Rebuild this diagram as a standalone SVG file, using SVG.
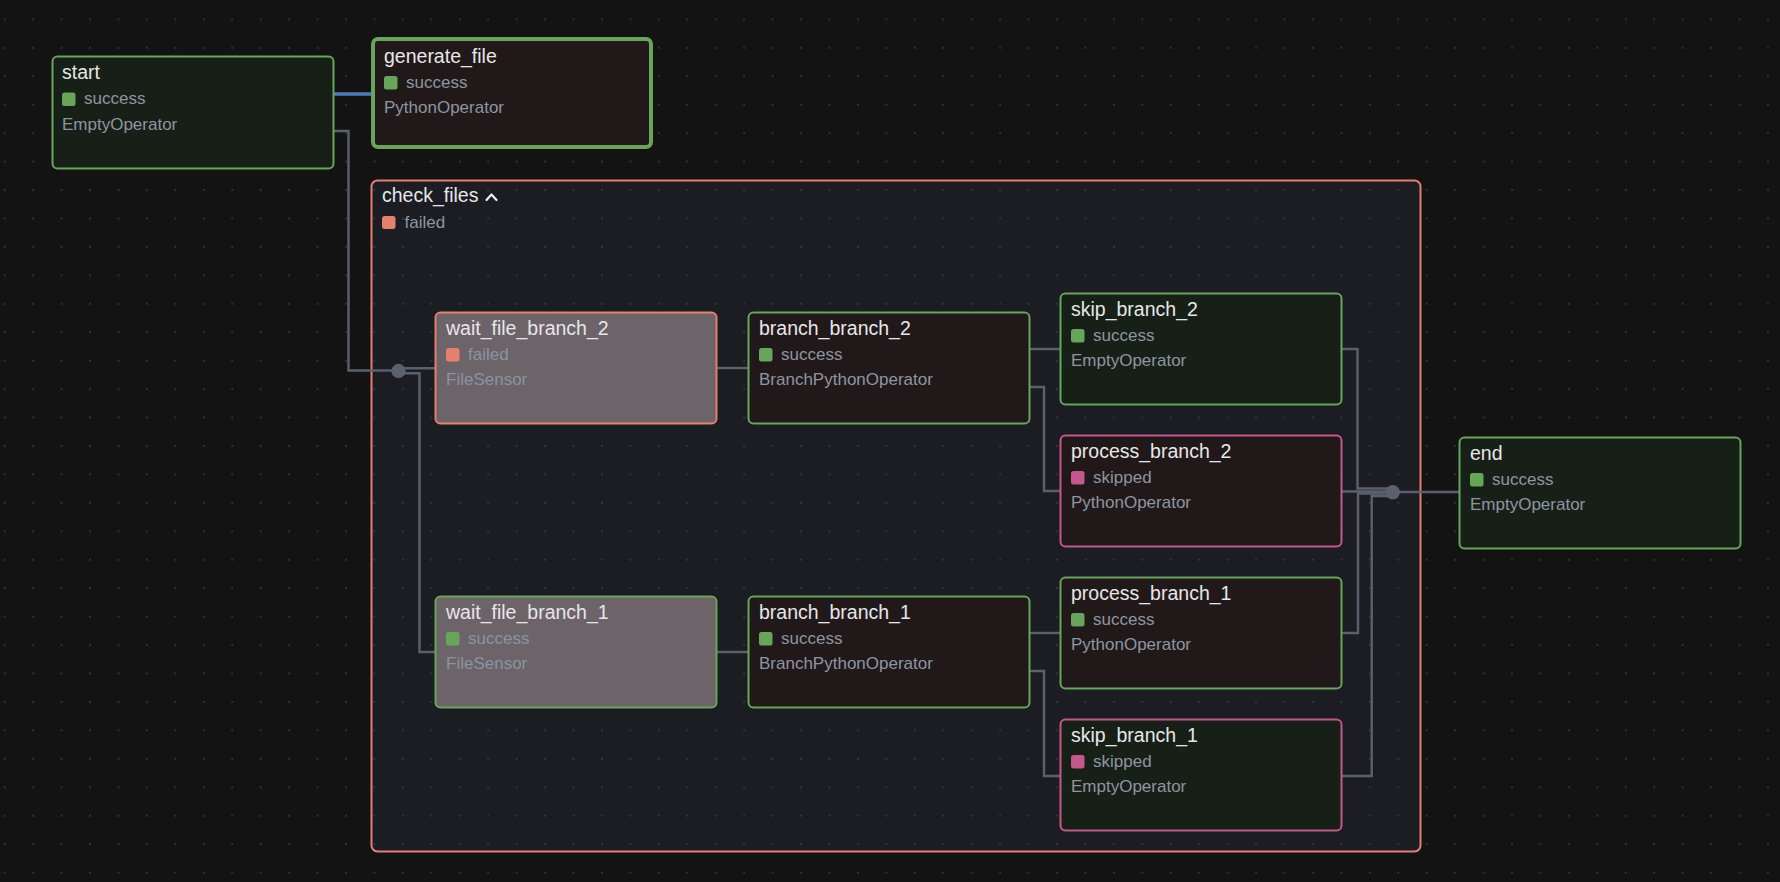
<svg xmlns="http://www.w3.org/2000/svg" width="1780" height="882" viewBox="0 0 1780 882">
  <defs>
    <pattern id="dots" patternUnits="userSpaceOnUse" x="3.7" y="18.4" width="28.44" height="28.44">
      <circle cx="1" cy="1" r="0.9" fill="#3d3f42"/>
    </pattern>
    <style>
      .title{font-family:"Liberation Sans",Arial,sans-serif;font-size:19.5px;fill:#e6e7e9}
      .sub{font-family:"Liberation Sans",Arial,sans-serif;font-size:17px;fill:#8d95a1}
      .subw{font-family:"Liberation Sans",Arial,sans-serif;font-size:17px;fill:#8a93a3}
      .empty{fill:#172017}
      .py{fill:#211919}
      .sensor{fill:#6c6468}
      .bok{stroke:#67a65a;stroke-width:2}
      .bfail{stroke:#e57f70;stroke-width:2}
      .bskip{stroke:#c4588d;stroke-width:2}
      .sok{fill:#67a65a}
      .sfail{fill:#e57f70}
      .sskip{fill:#c4588d}
      .edge{fill:none;stroke:#5a616c;stroke-width:2.4}
      .edgehi{fill:none;stroke:#4a7bb8;stroke-width:3.5}
      .dot{fill:#5a616c}
    </style>
  </defs>

  <rect x="0" y="0" width="1780" height="882" fill="#131313"/>

  <g id="check_files">
    <rect x="371.5" y="180.5" width="1049" height="671" rx="6" fill="#1b1d22"/>
    <rect x="0" y="0" width="1780" height="882" fill="url(#dots)"/>
    <rect x="371.5" y="180.5" width="1049" height="671" rx="6" fill="none" stroke="#e57f70" stroke-width="2"/>
    <text class="title" x="382" y="202">check_files</text>
    <path d="M486.5,200 L491.5,194.5 L496.5,200" fill="none" stroke="#f0f0f0" stroke-width="2.2" stroke-linecap="round" stroke-linejoin="round"/>
    <rect class="sfail" x="382" y="216" width="13.5" height="13" rx="2.5"/>
    <text class="sub" x="404.5" y="228">failed</text>
  </g>

  <g id="connectors">
    <path class="edgehi" d="M334,94 H371"/>
    <path class="edge" d="M334,131 H348.5 V370.5 H398"/>
    <path class="edge" d="M398,368.3 H435"/>
    <path class="edge" d="M398,373.3 H419.5 V652 H435"/>
    <circle class="dot" cx="398.5" cy="371" r="7.2"/>
    <path class="edge" d="M717,368 H748"/>
    <path class="edge" d="M717,652 H748"/>
    <path class="edge" d="M1030,349 H1060"/>
    <path class="edge" d="M1030,387 H1044 V491 H1060"/>
    <path class="edge" d="M1030,633 H1060"/>
    <path class="edge" d="M1030,671 H1044 V776 H1060"/>
    <path class="edge" d="M1342,349 H1357.5 V488.5 H1393"/>
    <path class="edge" d="M1342,491.5 H1393"/>
    <path class="edge" d="M1342,633 H1358 V493.5 H1393"/>
    <path class="edge" d="M1342,776 H1371.7 V496 H1393"/>
    <circle class="dot" cx="1392.7" cy="492.3" r="7.2"/>
    <path class="edge" d="M1393,492 H1459"/>
  </g>

  <g id="start" transform="translate(52,56)">
    <rect class="empty bok" x="0.5" y="0.5" width="281" height="112" rx="5"/>
    <text class="title" x="10" y="23">start</text>
    <rect class="sok" x="10" y="36.5" width="13.5" height="13.5" rx="2.5"/>
    <text class="sub" x="32" y="48">success</text>
    <text class="sub" x="10" y="73.5">EmptyOperator</text>
  </g>

  <g id="generate_file" transform="translate(371,37)">
    <rect class="py" x="2" y="2" width="278" height="108" rx="5" stroke="#67a65a" stroke-width="4"/>
    <text class="title" x="13" y="26">generate_file</text>
    <rect class="sok" x="13" y="39" width="13.5" height="13.5" rx="2.5"/>
    <text class="sub" x="35" y="50.5">success</text>
    <text class="sub" x="13" y="76">PythonOperator</text>
  </g>

  <g id="wait_file_branch_2" transform="translate(435,312)">
    <rect class="sensor bfail" x="0.5" y="0.5" width="281" height="111" rx="5"/>
    <text class="title" x="11" y="23">wait_file_branch_2</text>
    <rect class="sfail" x="11" y="36" width="13.5" height="13.5" rx="2.5"/>
    <text class="subw" x="33" y="47.5">failed</text>
    <text class="subw" x="11" y="73">FileSensor</text>
  </g>

  <g id="branch_branch_2" transform="translate(748,312)">
    <rect class="py bok" x="0.5" y="0.5" width="281" height="111" rx="5"/>
    <text class="title" x="11" y="23">branch_branch_2</text>
    <rect class="sok" x="11" y="36" width="13.5" height="13.5" rx="2.5"/>
    <text class="sub" x="33" y="47.5">success</text>
    <text class="sub" x="11" y="73">BranchPythonOperator</text>
  </g>

  <g id="skip_branch_2" transform="translate(1060,293)">
    <rect class="empty bok" x="0.5" y="0.5" width="281" height="111" rx="5"/>
    <text class="title" x="11" y="23">skip_branch_2</text>
    <rect class="sok" x="11" y="36" width="13.5" height="13.5" rx="2.5"/>
    <text class="sub" x="33" y="47.5">success</text>
    <text class="sub" x="11" y="73">EmptyOperator</text>
  </g>

  <g id="process_branch_2" transform="translate(1060,435)">
    <rect class="py bskip" x="0.5" y="0.5" width="281" height="111" rx="5"/>
    <text class="title" x="11" y="23">process_branch_2</text>
    <rect class="sskip" x="11" y="36" width="13.5" height="13.5" rx="2.5"/>
    <text class="sub" x="33" y="47.5">skipped</text>
    <text class="sub" x="11" y="73">PythonOperator</text>
  </g>

  <g id="wait_file_branch_1" transform="translate(435,596)">
    <rect class="sensor bok" x="0.5" y="0.5" width="281" height="111" rx="5"/>
    <text class="title" x="11" y="23">wait_file_branch_1</text>
    <rect class="sok" x="11" y="36" width="13.5" height="13.5" rx="2.5"/>
    <text class="subw" x="33" y="47.5">success</text>
    <text class="subw" x="11" y="73">FileSensor</text>
  </g>

  <g id="branch_branch_1" transform="translate(748,596)">
    <rect class="py bok" x="0.5" y="0.5" width="281" height="111" rx="5"/>
    <text class="title" x="11" y="23">branch_branch_1</text>
    <rect class="sok" x="11" y="36" width="13.5" height="13.5" rx="2.5"/>
    <text class="sub" x="33" y="47.5">success</text>
    <text class="sub" x="11" y="73">BranchPythonOperator</text>
  </g>

  <g id="process_branch_1" transform="translate(1060,577)">
    <rect class="py bok" x="0.5" y="0.5" width="281" height="111" rx="5"/>
    <text class="title" x="11" y="23">process_branch_1</text>
    <rect class="sok" x="11" y="36" width="13.5" height="13.5" rx="2.5"/>
    <text class="sub" x="33" y="47.5">success</text>
    <text class="sub" x="11" y="73">PythonOperator</text>
  </g>

  <g id="skip_branch_1" transform="translate(1060,719)">
    <rect class="empty bskip" x="0.5" y="0.5" width="281" height="111" rx="5"/>
    <text class="title" x="11" y="23">skip_branch_1</text>
    <rect class="sskip" x="11" y="36" width="13.5" height="13.5" rx="2.5"/>
    <text class="sub" x="33" y="47.5">skipped</text>
    <text class="sub" x="11" y="73">EmptyOperator</text>
  </g>

  <g id="end" transform="translate(1459,437)">
    <rect class="empty bok" x="0.5" y="0.5" width="281" height="111" rx="5"/>
    <text class="title" x="11" y="23">end</text>
    <rect class="sok" x="11" y="36" width="13.5" height="13.5" rx="2.5"/>
    <text class="sub" x="33" y="47.5">success</text>
    <text class="sub" x="11" y="73">EmptyOperator</text>
  </g>
</svg>
